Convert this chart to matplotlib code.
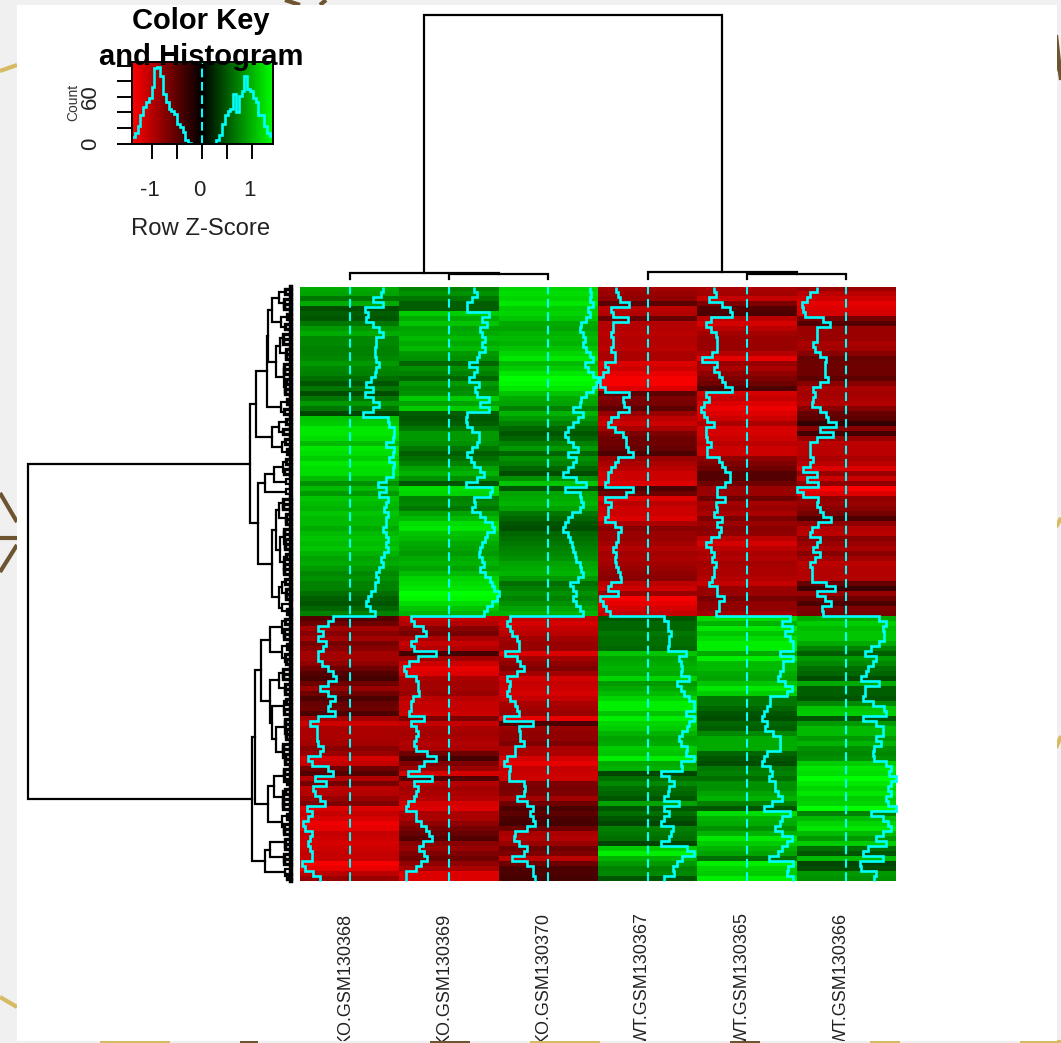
import numpy as np
import matplotlib
matplotlib.use('Agg')
import matplotlib.pyplot as plt
from matplotlib.colors import LinearSegmentedColormap
from matplotlib.patches import Rectangle
from matplotlib.transforms import ScaledTranslation

plt.rcParams['font.family'] = ['Liberation Sans', 'DejaVu Sans']

W, H = 1061, 1043
CYAN = '#00ffff'

col_labels = ['KO.GSM130368', 'KO.GSM130369', 'KO.GSM130370',
              'WT.GSM130367', 'WT.GSM130365', 'WT.GSM130366']

# z-scores per row
ko368 = [1.0, .95, .7, 1.0, .45, .55, .5, .7, .9, 1.0, .8, .8, .75, .75, .8, .9, .8, .75, .65, .5, .7, .45, .7, .9, .7, .4,
         1.15, 1.2, 1.35, 1.35, 1.3, 1.1, 1.35, 1.3, 1.2, 1.35, 1.3, 1.3, 1.1, .85, 1.1, .9, 1.15, 1.1, 1.05, 1.15, 1.1, 1.1, 1.0, 1.1,
         1.15, 1.1, 1.15, 1.05, .95, 1.0, .9, .8, .85, .75, .75, .65, .55, .5, .6, .75,
         -.5, -.65, -.95, -.8, -.95, -.7, -.8, -.95, -.95, -.85, -.65, -.5, -.4, -.65, -.9, -.65, -.45, -.6, -.65, -.45,
         -.95, -1.2, -1.0, -1.0, -1.0, -.95, -.8, -.9, -1.25, -1.15, -.65, -.5, -1.05, -.7, -1.1, -1.05, -.9, -.75, -1.3, -1.15,
         -1.25, -1.4, -1.35, -1.15, -1.2, -1.25, -1.2, -1.15, -1.15, -1.45, -1.35, -1.1, -.9]
ko369 = [.75, .85, .7, .55, .55, 1.2, 1.0, 1.15, .95, 1.0, 1.1, 1.0, 1.1, .9, .85, .6, .85, .75, .6, .9, .8, .85, 1.2, .95, 1.2, .55,
         .5, .55, .7, .9, .9, .85, .7, .55, .65, .75, .95, 1.05, .85, .5, 1.3, 1.25, .75, .8, .7, .95, 1.1, 1.3, 1.35, 1.15,
         1.1, 1.0, .95, .9, 1.0, 1.05, .95, 1.1, 1.25, 1.3, 1.35, 1.5, 1.45, 1.3, 1.15, 1.05,
         -1.15, -1.05, -.8, -.7, -1.0, -1.15, -1.05, -.4, -.95, -1.2, -1.35, -1.3, -1.0, -.95, -.95, -.9, -1.1, -1.15, -1.15, -1.2,
         -.75, -1.15, -1.0, -.95, -1.0, -1.05, -1.0, -.65, -.4, -.75, -.9, -1.25, -.5, -1.05, -.95, -1.0, -1.05, -1.25, -1.3, -1.0,
         -1.0, -.85, -.7, -.6, -.5, -.8, -.9, -.75, -.65, -.85, -1.0, -1.3, -1.3]
ko370 = [1.25, 1.3, 1.25, 1.35, 1.2, 1.25, 1.15, 1.0, .95, 1.05, 1.1, 1.05, 1.15, 1.25, 1.35, 1.1, 1.2, 1.35, 1.5, 1.45, 1.35, 1.15, 1.0, .95, .75, 1.05,
         .9, .75, .6, .5, .6, .75, .9, .6, .85, .75, .6, .45, .85, 1.15, .5, .95, 1.0, 1.05, .95, .7, .6, .5, .45, .6,
         .65, .7, .75, .8, .85, .95, 1.0, 1.05, .9, .65, .75, .85, .75, .85, .95, 1.05,
         -1.15, -1.25, -1.15, -1.1, -.95, -.9, -.9, -1.3, -.95, -.85, -.75, -.95, -1.25, -1.15, -1.2, -1.25, -1.15, -1.0, -.95, -.9,
         -1.35, -.45, -.9, -.85, -.85, -.75, -1.0, -1.0, -1.25, -1.35, -1.15, -1.2, -1.2, -.75, -.7, -.75, -.95, -.65, -.45, -.55,
         -.45, -.4, -.65, -1.0, -1.05, -.9, -.65, -.75, -1.1, -.65, -.45, -.45, -.4]
wt367 = [-.95, -.9, -.85, -.55, -1.1, -1.05, -.6, -1.05, -1.05, -1.1, -1.05, -1.05, -1.1, -1.0, -1.0, -1.3, -1.2, -1.35, -1.45, -1.45,
         -1.3, -.55, -.75, -.7, -.55, -.9, -1.1, -1.2, -1.0, -.75, -.65, -.65, -.6, -.45, -.9, -1.0, -1.1, -1.2, -1.2, -1.3,
         -.45, -.65, -1.3, -1.1, -1.2, -1.2, -1.3, -1.0, -.8, -.9, -.9, -.95, -1.05, -.95, -1.0, -.95, -.9, -.85, -.8, -1.1,
         -1.2, -.9, -1.45, -1.35, -1.25, -1.15,
         .5, .6, .6, .7, .65, .65, .6, 1.15, .95, 1.0, 1.05, 1.0, 1.25, .9, 1.0, 1.1, 1.25, 1.4, 1.4, 1.15,
         1.4, 1.25, 1.2, 1.05, .95, 1.0, 1.2, 1.15, 1.4, 1.0, 1.05, .4, .65, .8, .65, .6, .5, .95, .5, .65,
         .5, .4, .75, .7, .65, .4, 1.2, 1.4, 1.05, .9, .75, .8, .5]
wt365 = [-1.0, -.95, -1.15, -.75, -.5, -.45, -1.1, -1.25, -1.1, -.95, -.9, -.9, -.9, -1.05, -1.35, -.9, -1.0, -.85, -.75, -.65,
         -.45, -1.25, -1.15, -1.3, -1.4, -1.3, -1.2, -1.0, -1.25, -1.25, -1.2, -1.1, -1.2, -1.2, -.85, -.75, -.65, -.5, -.5, -.65,
         -.9, -.9, -.65, -.95, -.9, -1.0, -.75, -.9, -.8, -.85, -1.1, -1.25, -1.1, -1.0, -1.05, -.95, -1.0, -1.0, -1.05, -1.15,
         -.9, -.9, -.7, -.85, -.85, -.95,
         1.3, 1.05, 1.35, 1.15, 1.3, 1.4, 1.4, 1.0, 1.4, 1.1, 1.1, 1.0, .95, 1.15, 1.35, 1.2, .7, .7, .6, .5,
         .45, .6, .55, .8, 1.0, 1.0, 1.0, .6, .5, .45, .7, .75, .65, .85, .85, .95, 1.05, .75, .5, 1.3,
         1.05, 1.0, .85, 1.05, 1.35, 1.2, 1.05, .95, .65, 1.4, 1.25, 1.2, 1.4]
wt366 = [-.9, -1.1, -1.2, -1.35, -1.3, -1.25, -.7, -.5, -.9, -.9, -.9, -1.0, -.95, -.8, -.6, -.65, -.65, -.65, -.55, -.8,
         -1.0, -.95, -1.0, -1.05, -.8, -.6, -.55, -.3, -.8, -.4, -.9, -1.1, -1.1, -1.1, -1.0, -1.1, -1.3, -.9, -1.2, -.85,
         -1.5, -1.3, -.85, -.9, -.8, -.7, -.45, -.85, -1.05, -1.1, -.8, -.9, -1.0, -.8, -.95, -1.1, -1.05, -1.05, -1.05, -.6,
         -.35, -.9, -.65, -.45, -.75, -.7,
         1.0, 1.2, 1.1, 1.15, 1.15, 1.0, .75, .55, .9, .8, .65, .6, .45, 1.0, .55, .55, .5, .8, 1.15, 1.2,
         .5, .9, 1.1, 1.1, .9, 1.05, .85, .8, .85, 1.2, 1.35, 1.3, 1.5, 1.35, 1.25, 1.35, 1.2, 1.25, 1.5, .75,
         1.1, 1.25, 1.35, 1.1, .9, 1.2, .65, .5, 1.1, .4, .45, .9, .85]

# colour key histogram counts
hist_counts = [8, 13, 23, 36, 47, 53, 59, 72, 97, 98, 87, 64, 53, 44, 42, 38, 25, 21, 15, 4, 1,
               0, 0, 0, 0, 0, 0, 0, 0, 0,
               4, 11, 25, 36, 42, 44, 64, 40, 61, 68, 86, 70, 68, 59, 53, 36, 36, 23, 13, 9]
key_min, key_max = -1.41, 1.41

# dendrograms: [height, child, child], (first, last) is a run of leaves
row_tree = [263,
    [41,
        [35,
            [24,
                [23,
                    [19, [12, (0, 4)], [10, (5, 8)]],
                    [15, [11, (9, 14)], [7, (15, 21)]]],
                [10, (22, 25)]],
            [19, [12, (26, 29)], [9, (30, 33)]]],
        [33,
            [26, [17, [8, (34, 37)], [5, (38, 39)]], [5, (40, 41)]],
            [19,
                [15, [12, (42, 47)], [11, (48, 57)]],
                [12, [9, (58, 62)], [9, (63, 65)]]]]],
    [39,
        [36,
            [30,
                [21, [9, (66, 70)], [9, (71, 75)]],
                [21,
                    [12, (76, 81)],
                    [19, [7, (82, 85)], [15, (86, 95)]]]],
            [23, [17, (96, 104)], [9, (105, 109)]]],
        [26, [21, (110, 115)], [6, (116, 118)]]]]
col_tree = [264,
    [6, (0, 0), [5, (1, 1), (2, 2)]],
    [7.5, (3, 3), [5, (4, 4), (5, 5)]]]
twig = [3, 6, 2, 5, 7, 3, 4, 2, 6, 3, 8, 2, 4, 5, 3, 2, 7, 4, 3, 5, 2, 6, 4, 3, 7, 2, 5, 3, 8, 4,
        2, 6, 3, 4, 5, 2, 7, 3, 4, 2, 6, 5, 3, 8, 2, 4, 3, 5, 7, 2, 4, 6, 3, 2, 5, 4, 7, 3, 2, 6,
        4, 3, 5, 8, 2, 4, 3, 6, 5, 2, 7, 3, 4, 6, 2, 5, 3, 8, 4, 2, 6, 3, 5, 4, 7, 2, 3, 6, 4, 5,
        2, 8, 3, 4, 6, 2, 5, 7, 3, 4, 2, 6, 3, 5, 8, 2, 4, 3, 7, 5, 2, 6, 4, 3, 5, 7, 2, 4, 3]

# strokes of the page behind the white panel, in pixels
gold_strokes = [([0, 17], [71, 65]), ([0, 17], [997, 1007]), ([1056, 1061], [527, 518]),
                ([1056, 1061], [748, 736]), ([100, 170], [1042, 1042]), ([530, 600], [1042, 1042]),
                ([870, 900], [1042, 1042]), ([1020, 1061], [1042, 1042])]
brown_strokes = [([0, 17], [493, 522]), ([0, 17], [538, 538]), ([0, 17], [572, 545]),
                 ([285, 300], [0, 5]), ([320, 326], [5, 0]), ([1056, 1061], [35, 80]),
                 ([1056, 1061], [60, 75]), ([430, 470], [1042, 1042]), ([240, 258], [1042, 1042]),
                 ([730, 760], [1042, 1042])]


def px_axes(fig, x0, y0, x1, y1, **kw):
    return fig.add_axes([x0 / W, 1 - y1 / H, (x1 - x0) / W, (y1 - y0) / H], **kw)


def draw_tree(ax, node, lw=1.6, flip=False):
    # returns leaf position and height, draws the U of every merge
    if isinstance(node, tuple):
        a, b = node
        if a == b:
            return a + 0.5, 0
        m = (a + b + 1) // 2
        node = [max(twig[a:b + 1]), (a, m - 1), (m, b)]
        lw = 2.4
    elif len(node) == 2:
        a, b = node[1]
        m = (a + b + 1) // 2
        node = [node[0], (a, m - 1), (m, b)]
    h = node[0]
    p1, h1 = draw_tree(ax, node[1], lw, flip)
    p2, h2 = draw_tree(ax, node[2], lw, flip)
    pos = [p1, p1, p2, p2]
    heights = [h1, h, h, h2]
    if flip:
        ax.plot(pos, heights, color='black', lw=lw, solid_joinstyle='miter', clip_on=False)
    else:
        ax.plot(heights, pos, color='black', lw=lw, solid_joinstyle='miter', clip_on=False)
    return (p1 + p2) / 2, h


fig = plt.figure(figsize=(W / 100, H / 100), dpi=100, facecolor='#f0f0f0')

ax_bg = fig.add_axes([0, 0, 1, 1], zorder=-1)
ax_bg.set_xlim(0, W)
ax_bg.set_ylim(H, 0)
ax_bg.axis('off')
for xs, ys in gold_strokes:
    ax_bg.plot(xs, ys, color='#d6bb63', lw=3, solid_capstyle='butt')
for xs, ys in brown_strokes:
    ax_bg.plot(xs, ys, color='#6d5530', lw=3, solid_capstyle='butt')
panel = Rectangle((17, 5), 1040, 1036, facecolor='white', edgecolor='none', zorder=2)
ax_bg.add_patch(panel)

cmap = LinearSegmentedColormap.from_list('rg', ['#ff0000', '#000000', '#00ff00'])

# heat map with traces
columns = [ko368, ko369, ko370, wt367, wt365, wt366]
z = np.array(columns).T
n_rows, n_cols = z.shape
ax = px_axes(fig, 300, 287, 896, 881)
ax.imshow(z, cmap=cmap, vmin=-1.5, vmax=1.5, aspect='auto', interpolation='nearest',
          extent=(0, n_cols, n_rows, 0))
ax.set_xlim(0, n_cols)
ax.set_ylim(n_rows, 0)
ax.axis('off')
edges = np.arange(n_rows + 1)
for i in range(n_cols):
    ax.axvline(i + 0.5, color=CYAN, lw=1.5, dashes=(4.2, 2.2))
    ax.stairs(i + 0.5 + z[:, i] / 3, edges, orientation='horizontal', baseline=None,
              color=CYAN, lw=1.9, clip_on=False)
    t = ax.text(i + 0.535, n_rows + 6.3, col_labels[i], rotation=90, ha='right', va='top',
                fontsize=13.0, color='#222222')
    t.set_clip_path(panel)
    t.set_clip_on(True)

# row dendrogram
ax_rd = px_axes(fig, 28, 287, 291, 881)
ax_rd.set_xlim(263, 0)
ax_rd.set_ylim(n_rows, 0)
ax_rd.axis('off')
draw_tree(ax_rd, row_tree)
ax_rd.axvline(0, color='black', lw=3.2, clip_on=False)

# column dendrogram
ax_cd = px_axes(fig, 300, 15, 896, 279)
ax_cd.set_xlim(0, n_cols)
ax_cd.set_ylim(0, 264)
ax_cd.axis('off')
draw_tree(ax_cd, col_tree, flip=True)

# colour key
ax_key = px_axes(fig, 132, 62, 272.5, 143.5)
grad = np.linspace(key_min, key_max, 256).reshape(1, -1)
ax_key.imshow(grad, cmap=cmap, vmin=key_min, vmax=key_max, aspect='auto',
              extent=(key_min, key_max, 0, 104.6))
hist_edges = np.linspace(key_min, key_max, len(hist_counts) + 1)
ax_key.stairs(hist_counts, hist_edges, color=CYAN, lw=1.9, baseline=None)
ax_key.axvline(0, color=CYAN, lw=1.5, dashes=(4.2, 2.2))
ax_key.set_xlim(key_min, key_max)
ax_key.set_ylim(0, 104.6)
ax_key.set_xticks([-1, -0.5, 0, 0.5, 1])
ax_key.set_xticklabels(['-1', '', '0', '', '1'], fontsize=16, color='#222222')
ax_key.set_yticks([0, 20, 40, 60, 80, 100])
ax_key.set_yticklabels(['0', '', '', '60', '', ''], fontsize=16, rotation=90, va='center', color='#222222')
ax_key.tick_params(axis='x', length=10.5, width=1.4, pad=16)
ax_key.tick_params(axis='y', length=10.5, width=1.4, pad=12)
shift_left = ScaledTranslation(-2 / 72, 0, fig.dpi_scale_trans)
for lab in ax_key.get_xticklabels():
    lab.set_transform(lab.get_transform() + shift_left)
for s in ax_key.spines.values():
    s.set_linewidth(1.4)
ax_key.set_xlabel('Row Z-Score', fontsize=17.2, labelpad=12, color='#222222')
ax_key.xaxis.label.set_x(0.485)
ax_key.set_ylabel('Count', fontsize=10, labelpad=0, color='#333333')

fig.text(201 / W, 1 - 21 / H, 'Color Key', fontsize=21, fontweight='bold', ha='center', va='center', zorder=5)
fig.text(201 / W, 1 - 57 / H, 'and Histogram', fontsize=21, fontweight='bold', ha='center', va='center', zorder=5)

fig.savefig('out.png', dpi=100, facecolor=fig.get_facecolor())
